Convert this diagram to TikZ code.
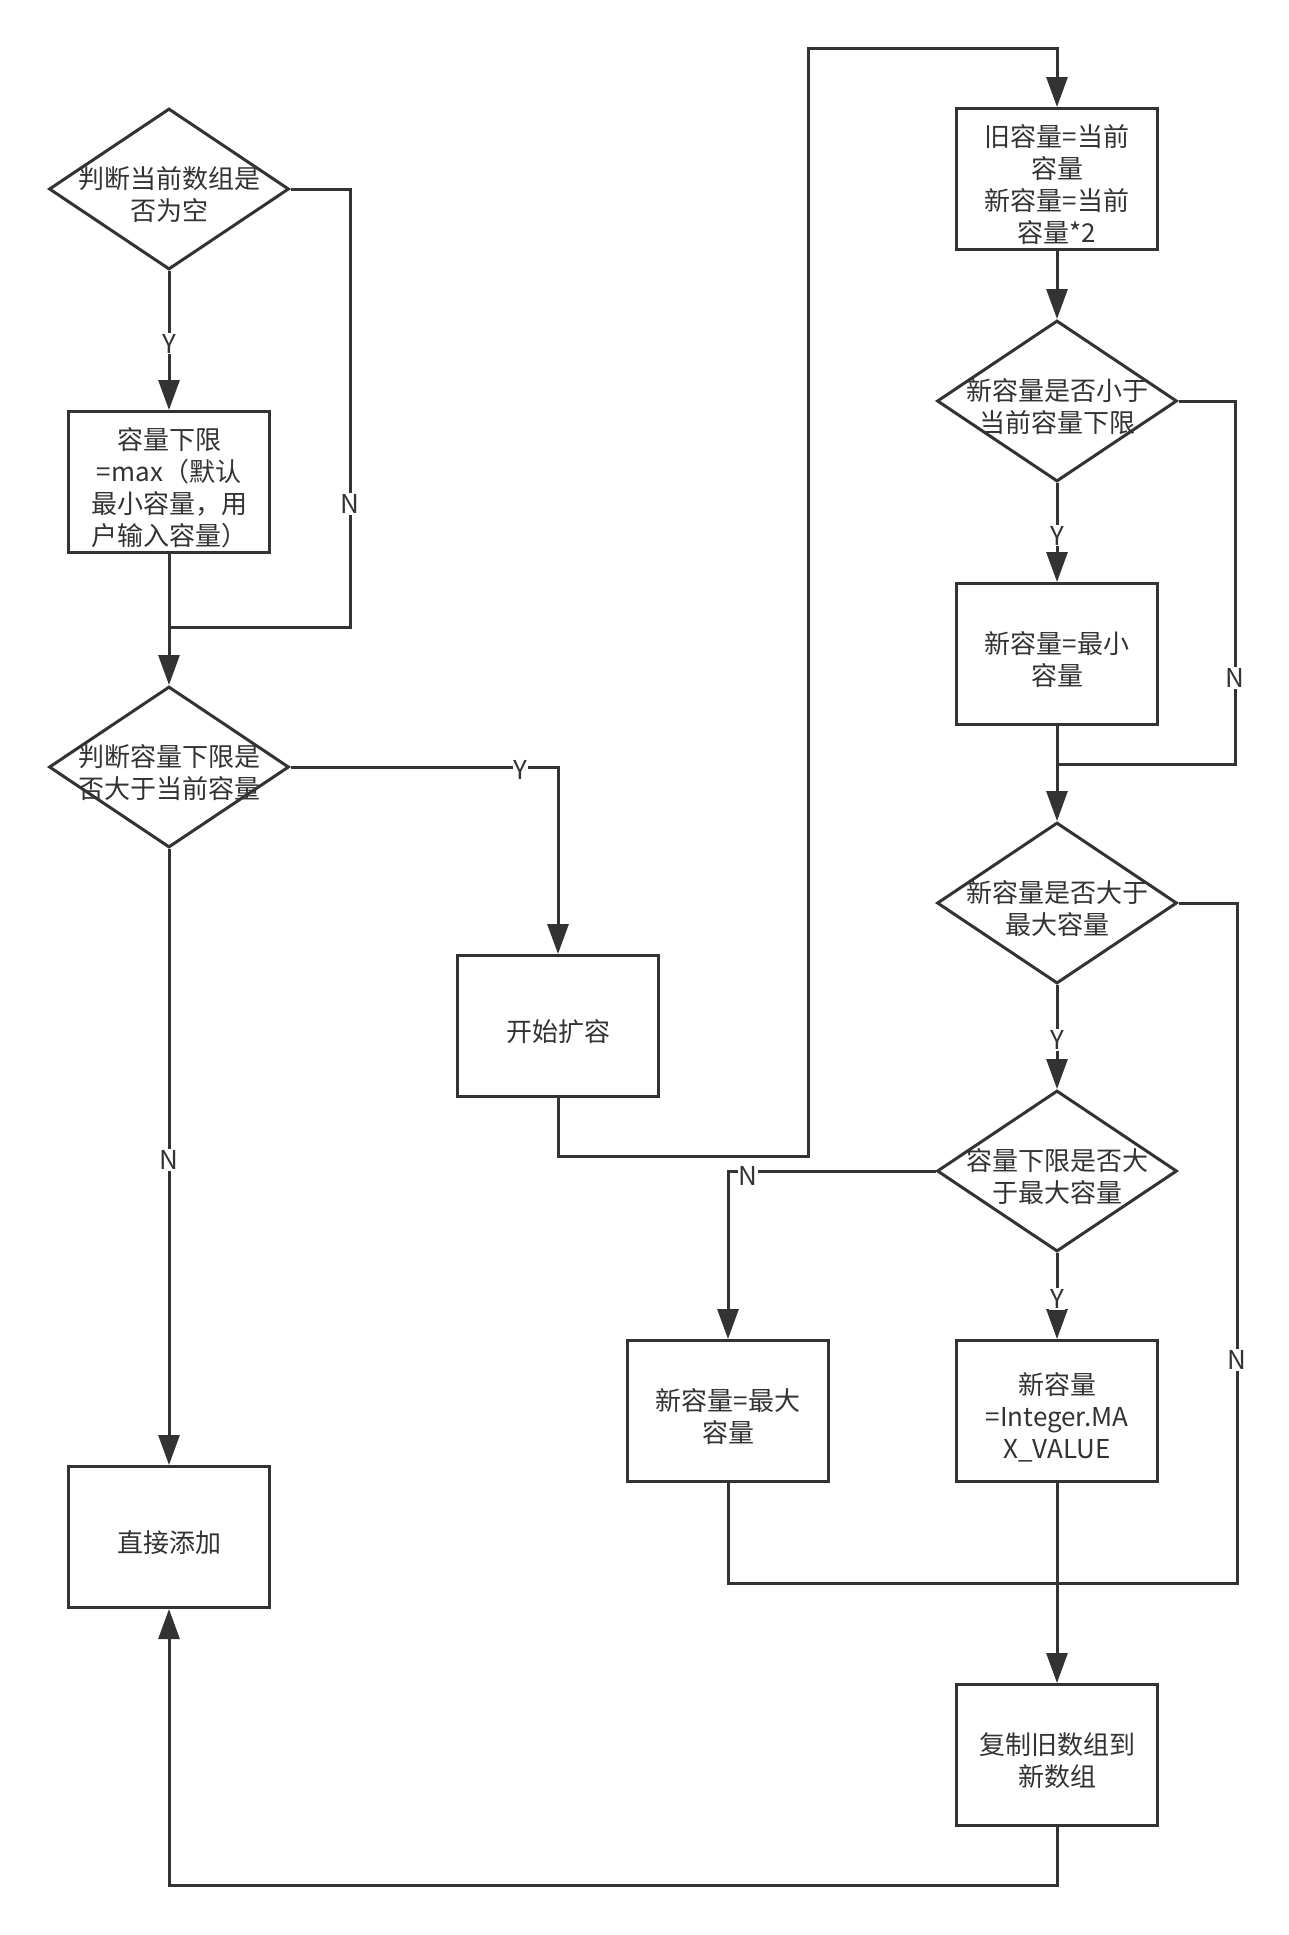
\documentclass[tikz,border=0pt]{standalone}
\usepackage{fontspec}
\setmainfont{Noto Sans CJK SC}
\usetikzlibrary{shapes.geometric,arrows.meta}
\definecolor{ink}{HTML}{333333}
\begin{document}
\begin{tikzpicture}[x=1pt,y=-1pt,
  every node/.style={font=\fontsize{26}{32}\selectfont, text=ink},
  box/.style={draw=ink, line width=3pt, minimum width=201pt, minimum height=141pt, inner sep=0pt},
  dia/.style={draw=ink, line width=3pt, diamond, minimum width=240pt, minimum height=161pt, inner sep=0pt},
  txt/.style={align=center, inner sep=0pt, yshift=-6pt},
  lbl/.style={fill=white, inner sep=1pt, yshift=-3pt},
  link/.style={draw=ink, line width=3pt},
  arr/.style={link, -{Triangle[length=30pt,width=21pt]}},
]
\fill[white] (0,0) rectangle (1288,1935);
\useasboundingbox (0,0) rectangle (1288,1935);

% left column
\node[dia] (dA) at (169,189) {};
\node[txt] (tA) at (dA) {判断当前数组是\\否为空};
\node[box] (bB) at (169,482) {};
\node[txt] (tB) at (bB) {容量下限\\=max（默认\\最小容量，用\\户输入容量）};
\node[dia] (dC) at (169,767) {};
\node[txt] (tC) at (dC) {判断容量下限是\\否大于当前容量};
\node[box] (bD) at (558,1026) {};
\node[txt] (tD) at (bD) {开始扩容};
\node[box] (bE) at (169,1537) {};
\node[txt] (tE) at (bE) {直接添加};

% right column
\node[box] (bF) at (1057,179) {};
\node[txt] (tF) at (bF) {旧容量=当前\\容量\\新容量=当前\\容量*2};
\node[dia] (dG) at (1057,401) {};
\node[txt] (tG) at (dG) {新容量是否小于\\当前容量下限};
\node[box] (bL) at (1057,654) {};
\node[txt] (tL) at (bL) {新容量=最小\\容量};
\node[dia] (dH) at (1057,903) {};
\node[txt] (tH) at (dH) {新容量是否大于\\最大容量};
\node[dia] (dI) at (1057,1171) {};
\node[txt] (tI) at (dI) {容量下限是否大\\于最大容量};
\node[box] (bM) at (728,1411) {};
\node[txt] (tM) at (bM) {新容量=最大\\容量};
\node[box] (bJ) at (1057,1411) {};
\node[txt] (tJ) at (bJ) {新容量\\=Integer.MA\\X\_VALUE};
\node[box] (bK) at (1057,1755) {};
\node[txt] (tK) at (bK) {复制旧数组到\\新数组};

% bend points and junctions
\coordinate (nA) at (350,627);
\coordinate (jA) at (169,627);
\coordinate (c1) at (808,1156);
\coordinate (c2) at (808,49);
\coordinate (nG) at (1235,764);
\coordinate (jG) at (1057,764);
\coordinate (nH) at (1237,1583);
\coordinate (jK) at (1057,1583);
\coordinate (c3) at (169,1885);

% connectors
\draw[arr] (dA.south) -- node[lbl] {Y} (bB.north);
\draw[link] (dA.east) -| (nA) -- (jA);
\draw[arr] (bB.south) -- (dC.north);
\draw[arr] (dC.east) -| node[lbl, pos=0.43] {Y} (bD.north);
\draw[arr] (dC.south) -- node[lbl] {N} (bE.north);
\draw[arr] (bD.south) |- (c1) -- (c2) -| (bF.north);
\draw[arr] (bF.south) -- (dG.north);
\draw[arr] (dG.south) -- node[lbl] {Y} (bL.north);
\draw[link] (dG.east) -| (nG) -- (jG);
\draw[arr] (bL.south) -- (dH.north);
\draw[arr] (dH.south) -- node[lbl] {Y} (dI.north);
\draw[arr] (dI.west) -| (bM.north);
\draw[arr] (dI.south) -- node[lbl] {Y} (bJ.north);
\draw[link] (dH.east) -| (nH) -- (jK);
\draw[link] (bM.south) |- (jK);
\draw[arr] (bJ.south) -- (bK.north);
\draw[arr] (bK.south) |- (c3) -- (bE.south);

% branch labels away from midpoints
\node[lbl] (lA) at (350,501) {N};
\node[lbl] (lG) at (1235,675) {N};
\node[lbl] (lH) at (1237,1357) {N};
\node[lbl] (lI) at (748,1173) {N};
\end{tikzpicture}
\end{document}
